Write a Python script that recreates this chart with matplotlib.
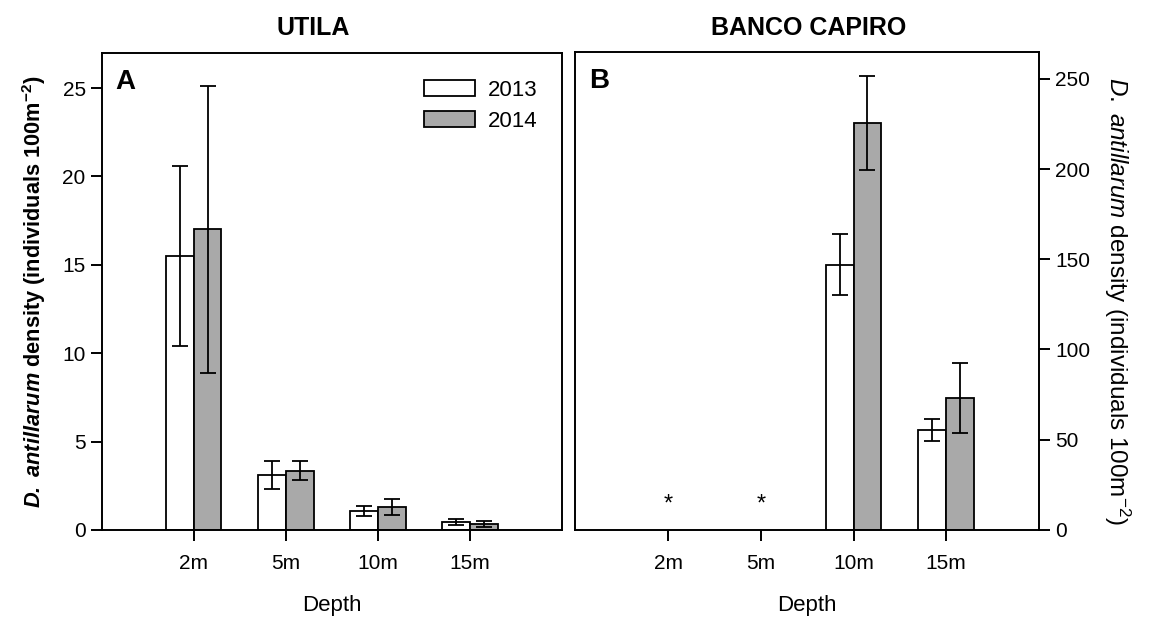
import numpy as np
import matplotlib
matplotlib.use('Agg')
import matplotlib.pyplot as plt

plt.rcParams['font.family'] = ['Liberation Sans', 'DejaVu Sans']
plt.rcParams['mathtext.fontset'] = 'custom'
plt.rcParams['mathtext.rm'] = 'Liberation Sans'
plt.rcParams['mathtext.it'] = 'Liberation Sans:italic'
plt.rcParams['mathtext.bf'] = 'Liberation Sans:bold'
plt.rcParams['mathtext.bfit'] = 'Liberation Sans:italic:bold'

# mean density per depth, with error (SE)
depths = ['2m', '5m', '10m', '15m']
years = ['2013', '2014']

utila_2013 = [15.5, 3.1, 1.05, 0.45]
utila_2013_err = [5.1, 0.8, 0.28, 0.18]
utila_2014 = [17.0, 3.35, 1.3, 0.35]
utila_2014_err = [8.1, 0.55, 0.45, 0.18]

# no urchins found at 2m and 5m in Banco Capiro (marked with *)
capiro_2013 = [np.nan, np.nan, 147.0, 55.5]
capiro_2013_err = [np.nan, np.nan, 17.0, 6.0]
capiro_2014 = [np.nan, np.nan, 225.5, 73.3]
capiro_2014_err = [np.nan, np.nan, 26.0, 19.3]

white = 'white'
grey = '#a9a9a9'
bw = 0.3

fig = plt.figure(figsize=(11.5, 6.19), dpi=100)
axA = fig.add_axes([0.0884, 0.1438, 0.4005, 0.7711])
axB = fig.add_axes([0.5004, 0.1438, 0.4030, 0.7727])

x = np.arange(1, len(depths) + 1)


def draw_bars(ax, v13, e13, v14, e14):
    ax.bar(x - bw / 2, v13, bw, color=white, edgecolor='black', linewidth=1.3, label=years[0], zorder=2)
    ax.bar(x + bw / 2, v14, bw, color=grey, edgecolor='black', linewidth=1.3, label=years[1], zorder=2)
    ax.errorbar(x - bw / 2, v13, yerr=e13, fmt='none', ecolor='black', elinewidth=1.3, capsize=5.5, capthick=1.3, zorder=3)
    ax.errorbar(x + bw / 2, v14, yerr=e14, fmt='none', ecolor='black', elinewidth=1.3, capsize=5.5, capthick=1.3, zorder=3)
    ax.set_xlim(0, 5)
    ax.set_xticks(x)
    ax.set_xticklabels(depths)
    ax.set_xlabel('Depth', fontsize=16, labelpad=16)
    for s in ax.spines.values():
        s.set_linewidth(1.4)
    ax.tick_params(axis='both', direction='out', length=8, width=1.4, labelsize=15)
    ax.tick_params(axis='x', pad=9)


draw_bars(axA, utila_2013, utila_2013_err, utila_2014, utila_2014_err)
draw_bars(axB, capiro_2013, capiro_2013_err, capiro_2014, capiro_2014_err)

axA.set_ylim(0, 27)
axA.set_yticks([0, 5, 10, 15, 20, 25])
axA.set_ylabel(r'$\mathbfit{D.\ antillarum}$ density (individuals 100m$^{\mathbf{-2}}$)',
               fontsize=15.7, fontweight='bold', labelpad=10)
axA.text(0.03, 0.965, 'A', transform=axA.transAxes, fontsize=20, fontweight='bold', va='top')
axA.legend(loc='upper right', bbox_to_anchor=(0.97, 0.966), frameon=False, fontsize=16,
           handlelength=2.3, handleheight=0.7, handletextpad=0.55, labelspacing=0.43, borderpad=0)

axB.set_ylim(0, 265)
axB.set_yticks([0, 50, 100, 150, 200, 250])
axB.yaxis.tick_right()
axB.yaxis.set_label_position('right')
axB.set_ylabel(r'$\mathit{D.\ antillarum}$ density (individuals 100m$^{-2}$)',
               fontsize=17.5, rotation=270)
axB.yaxis.label.set_verticalalignment('center')
axB.yaxis.set_label_coords(1.168, 0.478)
axB.text(0.03, 0.965, 'B', transform=axB.transAxes, fontsize=20, fontweight='bold', va='top')
for i, v in enumerate(capiro_2013):
    if np.isnan(v):
        axB.text(x[i], 14, '*', ha='center', va='center', fontsize=17)

fig.text(0.272, 0.955, 'UTILA', ha='center', va='center', fontsize=18, fontweight='bold')
fig.text(0.703, 0.955, 'BANCO CAPIRO', ha='center', va='center', fontsize=18, fontweight='bold')

fig.savefig('out.png', dpi=100)
